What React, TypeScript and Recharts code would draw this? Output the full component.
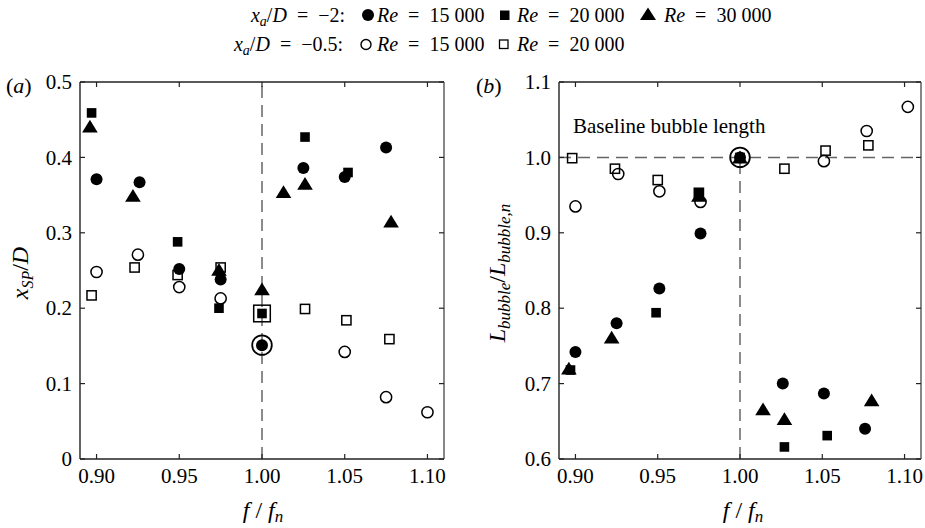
import React from 'react';
import { ScatterChart, Scatter, XAxis, YAxis, ReferenceLine } from 'recharts';

// ---------- data ----------
const xTicks = [0.9, 0.95, 1.0, 1.05, 1.1];
const xTickLabels = ['0.90', '0.95', '1.00', '1.05', '1.10'];
const aYTicks = [0, 0.1, 0.2, 0.3, 0.4, 0.5];
const aYTickLabels = ['0', '0.1', '0.2', '0.3', '0.4', '0.5'];
const bYTicks = [0.6, 0.7, 0.8, 0.9, 1.0, 1.1];
const bYTickLabels = ['0.6', '0.7', '0.8', '0.9', '1.0', '1.1'];

// panel (a): x_SP / D
const aFar15k = [
  { x: 0.9, y: 0.371 }, { x: 0.926, y: 0.367 }, { x: 0.95, y: 0.252 }, { x: 0.975, y: 0.238 },
  { x: 1.0, y: 0.151 }, { x: 1.025, y: 0.386 }, { x: 1.05, y: 0.374 }, { x: 1.075, y: 0.413 },
];
const aFar20k = [
  { x: 0.897, y: 0.459 }, { x: 0.949, y: 0.288 }, { x: 0.974, y: 0.2 }, { x: 1.0, y: 0.193 },
  { x: 1.026, y: 0.427 }, { x: 1.052, y: 0.38 },
];
const aFar30k = [
  { x: 0.896, y: 0.441 }, { x: 0.922, y: 0.349 }, { x: 0.974, y: 0.251 }, { x: 1.0, y: 0.225 },
  { x: 1.013, y: 0.354 }, { x: 1.026, y: 0.365 }, { x: 1.078, y: 0.315 },
];
const aNear15k = [
  { x: 0.9, y: 0.248 }, { x: 0.925, y: 0.271 }, { x: 0.95, y: 0.228 }, { x: 0.975, y: 0.213 },
  { x: 1.0, y: 0.151 }, { x: 1.05, y: 0.142 }, { x: 1.075, y: 0.082 }, { x: 1.1, y: 0.062 },
];
const aNear20k = [
  { x: 0.897, y: 0.217 }, { x: 0.923, y: 0.254 }, { x: 0.949, y: 0.244 }, { x: 0.975, y: 0.254 },
  { x: 1.0, y: 0.193 }, { x: 1.026, y: 0.199 }, { x: 1.051, y: 0.184 }, { x: 1.077, y: 0.159 },
];

// panel (b): L_bubble / L_bubble,n
const bFar15k = [
  { x: 0.9, y: 0.742 }, { x: 0.925, y: 0.78 }, { x: 0.951, y: 0.826 }, { x: 0.976, y: 0.899 },
  { x: 1.0, y: 1.0 }, { x: 1.026, y: 0.7 }, { x: 1.051, y: 0.687 }, { x: 1.076, y: 0.64 },
];
const bFar20k = [
  { x: 0.897, y: 0.718 }, { x: 0.949, y: 0.794 }, { x: 0.975, y: 0.952 }, { x: 1.0, y: 1.0 },
  { x: 1.027, y: 0.616 }, { x: 1.053, y: 0.631 },
];
const bFar30k = [
  { x: 0.896, y: 0.72 }, { x: 0.922, y: 0.761 }, { x: 0.975, y: 0.949 }, { x: 1.0, y: 1.0 },
  { x: 1.014, y: 0.666 }, { x: 1.027, y: 0.653 }, { x: 1.08, y: 0.678 },
];
const bNear15k = [
  { x: 0.9, y: 0.935 }, { x: 0.926, y: 0.978 }, { x: 0.951, y: 0.955 }, { x: 0.976, y: 0.941 },
  { x: 1.0, y: 1.0 }, { x: 1.051, y: 0.995 }, { x: 1.077, y: 1.035 }, { x: 1.102, y: 1.067 },
];
const bNear20k = [
  { x: 0.898, y: 0.999 }, { x: 0.924, y: 0.985 }, { x: 0.95, y: 0.97 }, { x: 0.975, y: 0.953 },
  { x: 1.027, y: 0.985 }, { x: 1.052, y: 1.009 }, { x: 1.078, y: 1.016 },
];

const xDomain = [0.89, 1.11];
const aYDomain = [0, 0.5];
const bYDomain = [0.6, 1.1];
const nominalF = 1.0;
const baselineLength = 1.0;

// ---------- styles ----------
const FONT = '"Liberation Serif", "Times New Roman", serif';
const AX = '#222';
const DASH = '#666';
const TICK_FS = 21;

// ---------- marker shapes ----------
const FilledCircle = (p: any) => <circle cx={p.cx} cy={p.cy} r={6} fill="#000" />;
const FilledSquare = (p: any) => <rect x={p.cx - 4.8} y={p.cy - 4.8} width={9.6} height={9.6} fill="#000" />;
const FilledTriangle = (p: any) => (
  <polygon
    points={`${p.cx},${p.cy - 6.8} ${p.cx - 7.8},${p.cy + 6} ${p.cx + 7.8},${p.cy + 6}`}
    fill="#000"
  />
);
const OpenCircle = (p: any) => {
  const big = p.payload && p.payload.x === nominalF;
  return (
    <circle cx={p.cx} cy={p.cy} r={big ? 9.8 : 5.6} fill="none" stroke="#000" strokeWidth={big ? 1.8 : 1.5} />
  );
};
const OpenSquare = (p: any) => {
  const big = p.payload && p.payload.x === nominalF;
  const h = big ? 8.3 : 4.6;
  return (
    <rect x={p.cx - h} y={p.cy - h} width={2 * h} height={2 * h} fill="none" stroke="#000" strokeWidth={1.5} />
  );
};

// ---------- ticks ----------
const makeBottomTick = (labels: string[]) => (props: any) => {
  const { x, y, index } = props;
  return (
    <g>
      <line x1={x} y1={y} x2={x} y2={y - 5} stroke={AX} strokeWidth={1.2} />
      <text x={x} y={y + 24} textAnchor="middle" fontFamily={FONT} fontSize={TICK_FS} fill="#000">
        {labels[index]}
      </text>
    </g>
  );
};
const makeLeftTick = (labels: string[]) => (props: any) => {
  const { x, y, index } = props;
  return (
    <g>
      <line x1={x} y1={y} x2={x + 5} y2={y} stroke={AX} strokeWidth={1.2} />
      <text x={x - 8} y={y} dy="0.34em" textAnchor="end" fontFamily={FONT} fontSize={TICK_FS} fill="#000">
        {labels[index]}
      </text>
    </g>
  );
};
const TopTick = (props: any) => (
  <line x1={props.x} y1={props.y} x2={props.x} y2={props.y + 5} stroke={AX} strokeWidth={1.2} />
);
const RightTick = (props: any) => (
  <line x1={props.x} y1={props.y} x2={props.x - 5} y2={props.y} stroke={AX} strokeWidth={1.2} />
);

const axisCommon = {
  tickSize: 0,
  tickMargin: 0,
  tickLine: false,
  interval: 0 as const,
  allowDataOverflow: true,
  type: 'number' as const,
};

function PanelA() {
  return (
    <ScatterChart width={470} height={528} margin={{ top: 81, left: 79, right: 25, bottom: 68 }}>
      <XAxis dataKey="x" xAxisId={0} domain={xDomain} ticks={xTicks} height={1} {...axisCommon}
        axisLine={{ stroke: AX, strokeWidth: 1.4 }} tick={makeBottomTick(xTickLabels)} />
      <XAxis dataKey="x" xAxisId="top" orientation="top" domain={xDomain} ticks={xTicks} height={1} {...axisCommon}
        axisLine={{ stroke: AX, strokeWidth: 1.4 }} tick={TopTick} />
      <YAxis dataKey="y" yAxisId={0} domain={aYDomain} ticks={aYTicks} width={1} {...axisCommon}
        axisLine={{ stroke: AX, strokeWidth: 1.4 }} tick={makeLeftTick(aYTickLabels)} />
      <YAxis dataKey="y" yAxisId="right" orientation="right" domain={aYDomain} ticks={aYTicks} width={1} {...axisCommon}
        axisLine={{ stroke: '#555', strokeWidth: 1.4 }} tick={RightTick} />
      <ReferenceLine x={nominalF} stroke={DASH} strokeWidth={1.5} strokeDasharray="12 7" />
      <Scatter data={aNear20k} shape={OpenSquare} isAnimationActive={false} />
      <Scatter data={aNear15k} shape={OpenCircle} isAnimationActive={false} />
      <Scatter data={aFar20k} shape={FilledSquare} isAnimationActive={false} />
      <Scatter data={aFar15k} shape={FilledCircle} isAnimationActive={false} />
      <Scatter data={aFar30k} shape={FilledTriangle} isAnimationActive={false} />
    </ScatterChart>
  );
}

function PanelB() {
  return (
    <ScatterChart width={455} height={528} margin={{ top: 81, left: 88, right: 3, bottom: 68 }}>
      <XAxis dataKey="x" xAxisId={0} domain={xDomain} ticks={xTicks} height={1} {...axisCommon}
        axisLine={{ stroke: AX, strokeWidth: 1.4 }} tick={makeBottomTick(xTickLabels)} />
      <XAxis dataKey="x" xAxisId="top" orientation="top" domain={xDomain} ticks={xTicks} height={1} {...axisCommon}
        axisLine={{ stroke: AX, strokeWidth: 1.4 }} tick={TopTick} />
      <YAxis dataKey="y" yAxisId={0} domain={bYDomain} ticks={bYTicks} width={1} {...axisCommon}
        axisLine={{ stroke: AX, strokeWidth: 1.4 }} tick={makeLeftTick(bYTickLabels)} />
      <YAxis dataKey="y" yAxisId="right" orientation="right" domain={bYDomain} ticks={bYTicks} width={1} {...axisCommon}
        axisLine={{ stroke: '#555', strokeWidth: 1.4 }} tick={RightTick} />
      <ReferenceLine y={baselineLength} stroke={DASH} strokeWidth={1.5} strokeDasharray="12 7" />
      <ReferenceLine
        segment={[{ x: nominalF, y: bYDomain[0] }, { x: nominalF, y: baselineLength }]}
        stroke={DASH} strokeWidth={1.5} strokeDasharray="12 7" />
      <Scatter data={bNear20k} shape={OpenSquare} isAnimationActive={false} />
      <Scatter data={bNear15k} shape={OpenCircle} isAnimationActive={false} />
      <Scatter data={bFar20k} shape={FilledSquare} isAnimationActive={false} />
      <Scatter data={bFar15k} shape={FilledCircle} isAnimationActive={false} />
      <Scatter data={bFar30k} shape={FilledTriangle} isAnimationActive={false} />
    </ScatterChart>
  );
}

const SP = '\u2002';

function Overlay() {
  const fs = 20;
  const sub = 14;
  const t = { fontFamily: FONT, fontSize: fs, fill: '#000' } as any;
  return (
    <svg width={925} height={528} style={{ position: 'absolute', left: 0, top: 0, pointerEvents: 'none' }}>
      {/* legend line 1 */}
      <text x={345} y={22} textAnchor="end" {...t}>
        <tspan fontStyle="italic">x</tspan>
        <tspan fontStyle="italic" fontSize={sub} dy={4}>a</tspan>
        <tspan dy={-4}>/</tspan>
        <tspan fontStyle="italic">D</tspan>
        <tspan>{SP}={SP}−2:</tspan>
      </text>
      <circle cx={368} cy={15} r={6} fill="#000" />
      <text x={377} y={22} {...t}><tspan fontStyle="italic">Re</tspan>{SP}={SP}15 000</text>
      <rect x={500} y={10.5} width={9.5} height={9.5} fill="#000" />
      <text x={517} y={22} {...t}><tspan fontStyle="italic">Re</tspan>{SP}={SP}20 000</text>
      <polygon points="648,7.5 640,20 656,20" fill="#000" />
      <text x={664} y={22} {...t}><tspan fontStyle="italic">Re</tspan>{SP}={SP}30 000</text>
      {/* legend line 2 */}
      <text x={343} y={51} textAnchor="end" {...t}>
        <tspan fontStyle="italic">x</tspan>
        <tspan fontStyle="italic" fontSize={sub} dy={4}>a</tspan>
        <tspan dy={-4}>/</tspan>
        <tspan fontStyle="italic">D</tspan>
        <tspan>{SP}={SP}−0.5:</tspan>
      </text>
      <circle cx={366} cy={44.5} r={5} fill="none" stroke="#000" strokeWidth={1.4} />
      <text x={377} y={51} {...t}><tspan fontStyle="italic">Re</tspan>{SP}={SP}15 000</text>
      <rect x={499.5} y={40} width={8.5} height={8.5} fill="none" stroke="#000" strokeWidth={1.3} />
      <text x={517} y={51} {...t}><tspan fontStyle="italic">Re</tspan>{SP}={SP}20 000</text>

      {/* panel labels */}
      <text x={6} y={93} fontFamily={FONT} fontSize={22}>(<tspan fontStyle="italic">a</tspan>)</text>
      <text x={476} y={93} fontFamily={FONT} fontSize={22}>(<tspan fontStyle="italic">b</tspan>)</text>

      {/* y titles */}
      <text transform="translate(28,273) rotate(-90)" textAnchor="middle" fontFamily={FONT} fontSize={24}>
        <tspan fontStyle="italic">x</tspan>
        <tspan fontStyle="italic" fontSize={16} dy={5}>SP</tspan>
        <tspan dy={-5}>/</tspan>
        <tspan fontStyle="italic">D</tspan>
      </text>
      <text transform="translate(505,273) rotate(-90)" textAnchor="middle" fontFamily={FONT} fontSize={24}>
        <tspan fontStyle="italic">L</tspan>
        <tspan fontStyle="italic" fontSize={17} dy={5}>bubble</tspan>
        <tspan dy={-5}>/</tspan>
        <tspan fontStyle="italic">L</tspan>
        <tspan fontStyle="italic" fontSize={17} dy={5}>bubble,n</tspan>
      </text>

      {/* x titles */}
      <text x={263} y={518} textAnchor="middle" fontFamily={FONT} fontSize={24}>
        <tspan fontStyle="italic">f</tspan> / <tspan fontStyle="italic">f</tspan>
        <tspan fontStyle="italic" fontSize={17} dy={4}>n</tspan>
      </text>
      <text x={743} y={518} textAnchor="middle" fontFamily={FONT} fontSize={24}>
        <tspan fontStyle="italic">f</tspan> / <tspan fontStyle="italic">f</tspan>
        <tspan fontStyle="italic" fontSize={17} dy={4}>n</tspan>
      </text>

      {/* annotation */}
      <text x={573} y={133} fontFamily={FONT} fontSize={21}>Baseline bubble length</text>
    </svg>
  );
}

export default function App() {
  return (
    <div style={{ position: 'fixed', left: 0, top: 0, width: 925, height: 528, background: '#fff', overflow: 'hidden' }}>
      <div style={{ position: 'absolute', left: 0, top: 0 }}>
        <PanelA />
      </div>
      <div style={{ position: 'absolute', left: 470, top: 0 }}>
        <PanelB />
      </div>
      <Overlay />
    </div>
  );
}
